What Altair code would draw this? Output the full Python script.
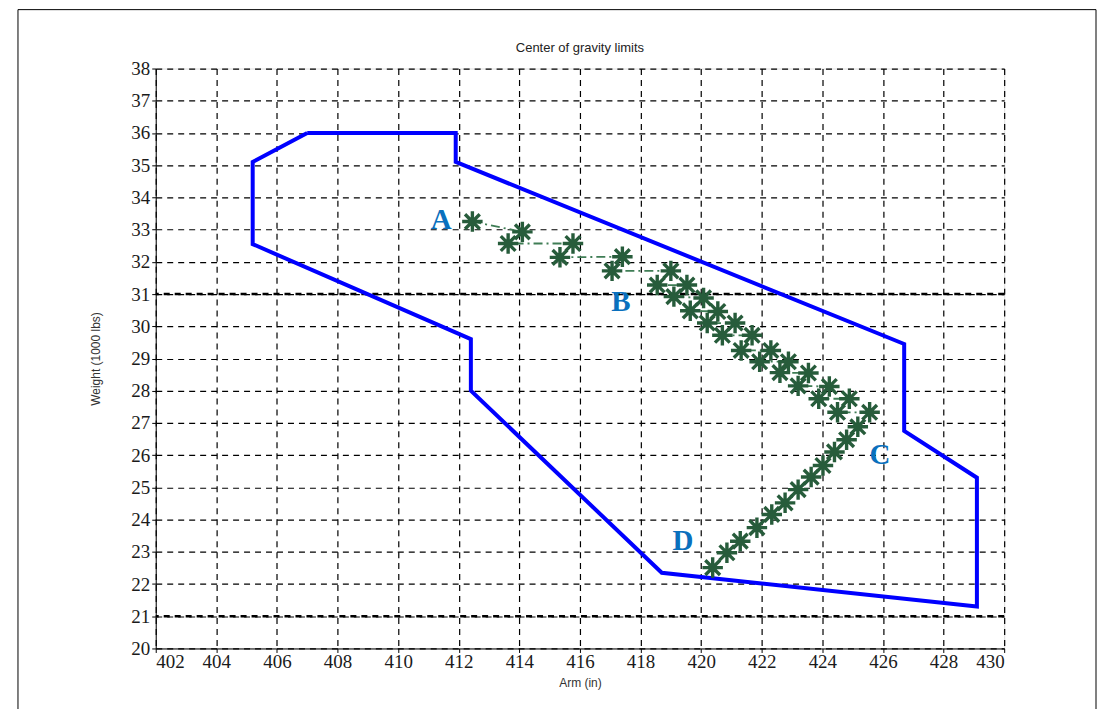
import altair as alt
import pandas as pd

# Envelope (centre of gravity limits) vertices, in order
poly_x = [407.0, 411.9, 411.9, 426.7, 426.7, 429.1, 429.1, 418.7, 412.4, 412.4, 405.2, 405.2, 407.0]
poly_y = [36.0, 36.0, 35.1, 29.45, 26.75, 25.3, 21.3, 22.35, 28.0, 29.6, 32.55, 35.1, 36.0]

# Loading path A -> B -> C -> D
path_x = [412.45, 414.1, 413.63, 415.77, 415.34, 417.4, 417.06, 419.0, 418.55, 419.53,
          419.1, 420.08, 419.64, 420.55, 420.2, 421.12, 420.7, 421.68, 421.32, 422.3,
          421.93, 422.88, 422.6, 423.54, 423.2, 424.23, 423.88, 424.89, 424.5, 425.56,
          425.17, 424.8, 424.4, 424.02, 423.63, 423.2, 422.77, 422.33, 421.84, 421.29,
          420.85, 420.38]
path_y = [33.25, 32.93, 32.57, 32.57, 32.14, 32.16, 31.72, 31.72, 31.28, 31.28,
          30.92, 30.88, 30.48, 30.46, 30.1, 30.1, 29.72, 29.72, 29.25, 29.25,
          28.9, 28.9, 28.56, 28.55, 28.15, 28.13, 27.75, 27.75, 27.33, 27.33,
          26.88, 26.48, 26.1, 25.68, 25.32, 24.93, 24.52, 24.16, 23.75, 23.33,
          22.97, 22.51]

label_text = ["A", "B", "C", "D"]
label_x = [411.42, 417.35, 425.9, 419.4]
label_y = [33.3, 30.76, 25.99, 23.33]

x_ticks = list(range(402, 431, 2))
y_ticks = list(range(20, 39, 1))
heavy_grid_y = [21, 31]

title_text = "Center of gravity limits"

poly = pd.DataFrame({"x": poly_x, "y": poly_y, "i": range(len(poly_x))})
path = pd.DataFrame({"x": path_x, "y": path_y, "i": range(len(path_x))})
labels = pd.DataFrame({"x": label_x, "y": label_y, "t": label_text})
heavy = pd.DataFrame({"y": heavy_grid_y})

xs = alt.Scale(domain=[402, 430], nice=False, zero=False)
ys = alt.Scale(domain=[20, 38], nice=False, zero=False)

common = dict(grid=True, gridDash=[6, 5], gridColor="black", gridOpacity=1, gridWidth=1.2,
              labelOverlap=False, labelFont="Liberation Serif", labelFontSize=19,
              labelColor="#1a1a1a", titleFont="Liberation Sans", titleFontSize=12,
              titleFontWeight="normal", titleColor="#333", tickColor="black", tickSize=4,
              domainColor="black")
xaxis = alt.Axis(values=x_ticks, title="Arm  (in)", titlePadding=6, labelPadding=0, **common)
yaxis = alt.Axis(values=y_ticks, title="Weight (1000 lbs)", titlePadding=28, labelPadding=2, **common)

X = alt.X("x:Q", scale=xs, axis=xaxis)
Y = alt.Y("y:Q", scale=ys, axis=yaxis)

base = alt.Chart(pd.DataFrame({"t": [title_text]}))

frame = base.mark_rect(
    fill=None, stroke="black", strokeWidth=1, clip=False
).encode(x=alt.value(-138), x2=alt.value(942), y=alt.value(-59), y2=alt.value(700))

title = base.mark_text(font="Liberation Sans", fontSize=13, color="#222",
                       align="center", baseline="middle").encode(
    x=alt.value(425), y=alt.value(-21), text="t:N")

heavy_rules = alt.Chart(heavy).mark_rule(color="black", strokeWidth=2.4, strokeDash=[6, 5]).encode(
    y=Y
)

envelope = alt.Chart(poly).mark_line(color="#0000ff", strokeWidth=4, strokeJoin="miter").encode(
    x=X, y=Y, order="i:Q",
)

conn = alt.Chart(path).mark_line(color="#3f7d55", strokeWidth=1.8, strokeDash=[9, 4, 2, 4]).encode(
    x=X, y=Y, order="i:Q"
)

star = "M-1,0L1,0M0,-1L0,1M-0.72,-0.72L0.72,0.72M-0.72,0.72L0.72,-0.72"
stars = alt.Chart(path).mark_point(shape=star, size=420, filled=False, color="#275c3b",
                                   strokeWidth=3.4, opacity=1).encode(x=X, y=Y)

text = alt.Chart(labels).mark_text(font="Liberation Serif", fontSize=29, fontWeight="bold",
                                   color="#0a70bd", align="center", baseline="middle").encode(
    x=X, y=Y, text="t:N"
)

chart = alt.layer(frame, title, heavy_rules, envelope, conn, stars, text).properties(
    width=850, height=581,
    autosize=alt.AutoSizeParams(type="none"),
    padding={"left": 148, "top": 60, "right": 95, "bottom": 60},
).configure_view(stroke="black", strokeWidth=1.5).configure(background="white")

chart.save("out.html", embed_options={"renderer": "svg", "actions": False})
